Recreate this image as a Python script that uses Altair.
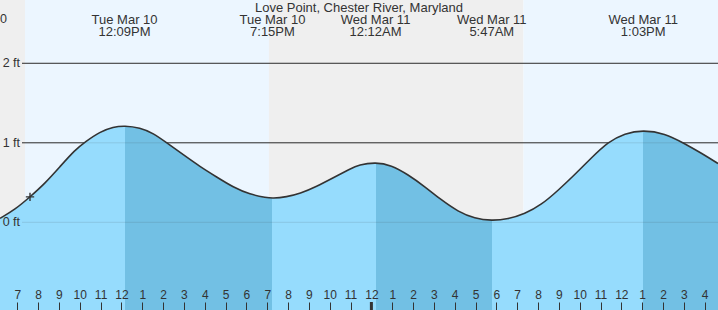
import altair as alt
import pandas as pd

# ---- data (hours since Tue Mar 10 00:00, feet) ----
x_start = 6.17
x_end = 40.64
y_bottom = -1.103
y_top = 2.796

curve_hours = [6.17, 6.89, 7.61, 8.33, 9.05, 9.77, 10.25, 10.97, 11.61, 12.15,
               12.89, 13.53, 14.17, 14.97, 15.77, 16.57, 17.37, 18.17, 18.97, 19.25,
               19.93, 20.57, 21.37, 22.17, 22.97, 23.40, 24.20, 24.95, 25.76, 26.56,
               27.36, 28.16, 28.96, 29.78, 30.56, 31.36, 32.16, 32.96, 33.76, 34.56,
               35.36, 36.16, 37.05, 38.08, 39.04, 39.84, 40.64]
curve_feet = [0.05, 0.16, 0.32, 0.49, 0.70, 0.91, 1.01, 1.14, 1.20, 1.215,
              1.19, 1.12, 1.00, 0.85, 0.70, 0.57, 0.44, 0.35, 0.31, 0.30,
              0.32, 0.36, 0.45, 0.56, 0.67, 0.725, 0.755, 0.72, 0.60, 0.45,
              0.28, 0.135, 0.046, 0.02, 0.04, 0.105, 0.22, 0.40, 0.60, 0.81,
              1.01, 1.12, 1.16, 1.12, 0.99, 0.87, 0.74]

event_hours = [12.15, 19.25, 24.20, 29.78, 37.05]
event_day = ["Tue Mar 10", "Tue Mar 10", "Wed Mar 11", "Wed Mar 11", "Wed Mar 11"]
event_time = ["12:09PM", "7:15PM", "12:12AM", "5:47AM", "1:03PM"]

band_start = [6.17, 7.37, 19.08, 31.30]
band_end = [7.37, 19.08, 31.30, 40.64]
band_kind = ["night", "day", "night", "day"]

grid_feet = [0, 1, 2]
grid_labels = ["0 ft", "1 ft", "2 ft"]

hour_ticks = list(range(7, 41))
midnight = [24]

now_hour = [7.61]
now_feet = [0.32]

title_text = "Love Point, Chester River, Maryland"

# ---- styles ----
FONT = "Liberation Sans"
TXT = "#333333"
LIGHT = "#96dcfd"
DARK = "#72c0e4"
INTERP = "basis"

curve_df = pd.DataFrame({"h": curve_hours, "ft": curve_feet})
event_df = pd.DataFrame({"h": event_hours, "day": event_day, "time": event_time})
band_df = pd.DataFrame({"s": band_start, "e": band_end, "kind": band_kind})
grid_df = pd.DataFrame({"ft": grid_feet, "label": grid_labels})
tick_df = pd.DataFrame({"h": midnight})
now_df = pd.DataFrame({"h": now_hour, "ft": now_feet})

xscale = alt.Scale(domain=[x_start, x_end], nice=False, zero=False)
yscale = alt.Scale(domain=[y_bottom, y_top], nice=False, zero=False)
xaxis = alt.Axis(orient="top", offset=-310, values=hour_ticks, zindex=2,
                 labelExpr="datum.value % 12 == 0 ? '12' : '' + (datum.value % 12)",
                 tickSize=8, tickColor=TXT, tickWidth=1, domain=False, grid=False,
                 labelFont=FONT, labelFontSize=12, labelColor=TXT, labelPadding=1,
                 labelFlush=False, labelOverlap=False, labelBound=False, title=None)


def X(field):
    return alt.X(field, type="quantitative", scale=xscale, axis=xaxis, title=None)


def Y(field):
    return alt.Y(field, type="quantitative", scale=yscale, axis=None, title=None)


span = x_end - x_start
stops = [alt.GradientStop(offset=0, color=LIGHT)]
cur = LIGHT
for h in event_hours:
    off = (h - x_start) / span
    nxt = DARK if cur == LIGHT else LIGHT
    stops.append(alt.GradientStop(offset=off, color=cur))
    stops.append(alt.GradientStop(offset=off, color=nxt))
    cur = nxt
stops.append(alt.GradientStop(offset=1, color=cur))
grad = alt.LinearGradient(gradient="linear", stops=stops, x1=0, x2=1, y1=0, y2=0)

bands = alt.Chart(band_df).mark_rect().encode(
    x=X("s"), x2="e", y=alt.value(0), y2=alt.value(310),
    color=alt.Color("kind:N", scale=alt.Scale(domain=["night", "day"],
                                              range=["#efefef", "#ecf6ff"]), legend=None))

rules_dark = alt.Chart(grid_df).mark_rule(color=TXT, strokeWidth=1).encode(
    y=Y("ft"), x=alt.value(22), x2=alt.value(718))

area = alt.Chart(curve_df).mark_area(interpolate=INTERP, color=grad).encode(
    x=X("h"), y=Y("ft"), y2=alt.datum(y_bottom))

rules_faint = alt.Chart(grid_df).mark_rule(color=TXT, strokeWidth=1, opacity=0.13).encode(
    y=Y("ft"), x=alt.value(22), x2=alt.value(718))

line = alt.Chart(curve_df).mark_line(interpolate=INTERP, color=TXT, strokeWidth=1.6).encode(
    x=X("h"), y=Y("ft"))

plus = alt.Chart(now_df).mark_point(shape="M-1,0L1,0M0,-1L0,1", size=70, filled=False,
                                    color=TXT, strokeWidth=1.4, opacity=1).encode(
    x=X("h"), y=Y("ft"))

mid_tick = alt.Chart(tick_df).mark_rule(color=TXT, strokeWidth=3).encode(
    x=X("h"), y=alt.value(302), y2=alt.value(310))

ylabels = alt.Chart(grid_df).mark_text(align="right", baseline="middle", font=FONT,
                                       fontSize=12.5, color=TXT).encode(
    y=Y("ft"), x=alt.value(20), text="label:N")

ev1 = alt.Chart(event_df).mark_text(align="center", baseline="middle", font=FONT,
                                    fontSize=13, color=TXT).encode(
    x=X("h"), y=alt.value(20), text="day:N")
ev2 = alt.Chart(event_df).mark_text(align="center", baseline="middle", font=FONT,
                                    fontSize=13, color=TXT).encode(
    x=X("h"), y=alt.value(32), text="time:N")

title = alt.Chart(pd.DataFrame({"t": [title_text]})).mark_text(
    align="center", baseline="middle", font=FONT, fontSize=13, color=TXT).encode(
    x=alt.value(359), y=alt.value(8), text="t:N")

corner = alt.Chart(pd.DataFrame({"t": ["0"]})).mark_text(
    align="right", baseline="middle", font=FONT, fontSize=12.5, color=TXT).encode(
    x=alt.value(7), y=alt.value(19), text="t:N")

chart = alt.layer(bands, rules_dark, area, rules_faint, line, plus, mid_tick,
                  ylabels, ev1, ev2, title, corner).properties(
    width=718, height=310, padding=0, autosize="none", background="#ffffff"
).configure_view(stroke=None)

chart.save("out.html", embed_options={"renderer": "svg", "actions": False})
